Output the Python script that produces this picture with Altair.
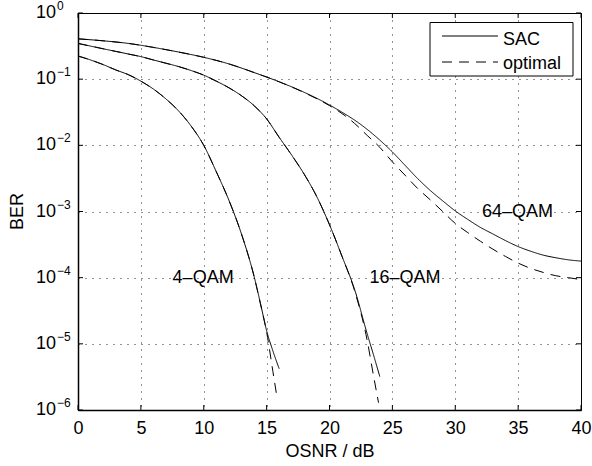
import altair as alt
import pandas as pd

FONT = "Liberation Sans"

# ---------------- data ----------------
x_ticks = [0, 5, 10, 15, 20, 25, 30, 35, 40]
y_ticks = [1, 1e-1, 1e-2, 1e-3, 1e-4, 1e-5, 1e-6]
y_exp_labels = ["0", "\u22121", "\u22122", "\u22123", "\u22124", "\u22125", "\u22126"]

# 4-QAM
qam4_sac_osnr = [0, 1, 2, 3, 4, 5, 6, 7, 8, 9, 10, 11, 12, 13, 14, 14.5, 15, 15.5, 16]
qam4_sac_ber = [0.224, 0.195, 0.166, 0.138, 0.117, 0.0933, 0.0708, 0.0501, 0.0331, 0.0195,
                0.0100, 3.98e-3, 1.48e-3, 4.57e-4, 1.05e-4, 4.17e-5, 1.58e-5, 7.8e-6, 4.2e-6]
qam4_opt_osnr = [0, 1, 2, 3, 4, 5, 6, 7, 8, 9, 10, 11, 12, 13, 14, 14.5, 15, 15.5, 15.85]
qam4_opt_ber = [0.224, 0.195, 0.166, 0.138, 0.117, 0.0933, 0.0708, 0.0501, 0.0331, 0.0195,
                0.0100, 3.98e-3, 1.48e-3, 4.57e-4, 1.05e-4, 4.07e-5, 1.51e-5, 3.8e-6, 1.45e-6]

# 16-QAM
qam16_sac_osnr = [0, 1, 2, 3, 4, 5, 6, 7, 8, 9, 10, 11, 12, 13, 14, 15, 16, 17, 18, 19, 20,
                  21, 22, 23, 23.5, 24]
qam16_sac_ber = [0.347, 0.316, 0.288, 0.263, 0.240, 0.219, 0.195, 0.174, 0.155, 0.135, 0.115,
                 0.0933, 0.0741, 0.0562, 0.0398, 0.0251, 0.0132, 7.08e-3, 3.63e-3, 1.66e-3,
                 6.31e-4, 2.09e-4, 6.6e-5, 1.41e-5, 6.8e-6, 3.2e-6]
qam16_opt_osnr = [0, 1, 2, 3, 4, 5, 6, 7, 8, 9, 10, 11, 12, 13, 14, 15, 16, 17, 18, 19, 20,
                  21, 22, 23, 23.5, 23.9]
qam16_opt_ber = [0.347, 0.316, 0.288, 0.263, 0.240, 0.219, 0.195, 0.174, 0.155, 0.135, 0.115,
                 0.0933, 0.0741, 0.0562, 0.0398, 0.0251, 0.0132, 7.08e-3, 3.63e-3, 1.66e-3,
                 6.31e-4, 2.09e-4, 6.3e-5, 1.12e-5, 3.3e-6, 1.29e-6]

# 64-QAM
qam64_osnr = [0, 2, 4, 6, 8, 10, 12, 14, 16, 18, 20, 21, 22, 23, 24, 25, 26, 27, 28, 29, 30,
              31, 32, 33, 34, 35, 36, 37, 38, 39, 40]
qam64_sac_ber = [0.407, 0.380, 0.347, 0.302, 0.257, 0.214, 0.170, 0.126, 0.0912, 0.0631,
                 0.0407, 0.0316, 0.0240, 0.0174, 0.0120, 7.94e-3, 5.01e-3, 3.16e-3, 2.09e-3,
                 1.45e-3, 1.02e-3, 7.59e-4, 5.75e-4, 4.57e-4, 3.63e-4, 2.95e-4, 2.51e-4,
                 2.19e-4, 2.00e-4, 1.86e-4, 1.78e-4]
qam64_opt_ber = [0.407, 0.380, 0.347, 0.302, 0.257, 0.214, 0.170, 0.126, 0.0912, 0.0625,
                 0.0398, 0.0302, 0.0214, 0.0141, 9.33e-3, 5.62e-3, 3.55e-3, 2.24e-3, 1.51e-3,
                 1.00e-3, 6.61e-4, 4.79e-4, 3.55e-4, 2.69e-4, 2.09e-4, 1.66e-4, 1.38e-4,
                 1.20e-4, 1.07e-4, 1.00e-4, 9.33e-5]

ann_text = ["4\u2013QAM", "16\u2013QAM", "64\u2013QAM"]
ann_osnr = [9.95, 26.0, 34.95]
ann_ber = [1e-4, 1e-4, 1e-3]

legend_labels = ["SAC", "optimal"]

# ---------------- build tables ----------------
curves = [
    ("4-QAM SAC", "SAC", qam4_sac_osnr, qam4_sac_ber),
    ("4-QAM opt", "optimal", qam4_opt_osnr, qam4_opt_ber),
    ("16-QAM SAC", "SAC", qam16_sac_osnr, qam16_sac_ber),
    ("16-QAM opt", "optimal", qam16_opt_osnr, qam16_opt_ber),
    ("64-QAM SAC", "SAC", qam64_osnr, qam64_sac_ber),
    ("64-QAM opt", "optimal", qam64_osnr, qam64_opt_ber),
]
rows = []
for name, kind, xs_, ys_ in curves:
    for i, (a, b) in enumerate(zip(xs_, ys_)):
        rows.append({"curve": name, "kind": kind, "osnr": a, "ber": b, "order": i})
df = pd.DataFrame(rows)

xscale = alt.Scale(domain=[0, 40], nice=False, zero=False)
yscale = alt.Scale(type="log", domain=[1e-6, 1], nice=False)

W, H = 503, 397

xaxis = alt.Axis(values=x_ticks, grid=True, ticks=False, labelFontSize=18, labelPadding=9,
                 labelFlush=False, labelColor="black", labelFont=FONT,
                 title="OSNR / dB", titleFontSize=18, titleFontWeight="normal",
                 titleFont=FONT, titleColor="black", titlePadding=5,
                 domainColor="black", domainWidth=1.5,
                 gridDash=[1, 6], gridColor="black", gridOpacity=0.85)
yaxis = alt.Axis(values=y_ticks, grid=True, ticks=False, labels=False, title=None,
                 domainColor="black", domainWidth=1.5,
                 gridDash=[1, 6], gridColor="black", gridOpacity=0.85)


def X(field="osnr:Q"):
    return alt.X(field, scale=xscale, axis=xaxis)


def Y(field="ber:Q"):
    return alt.Y(field, scale=yscale, axis=yaxis)


lines = alt.Chart(df).mark_line(color="black", strokeWidth=1, interpolate="monotone", clip=True).encode(
    x=X(), y=Y(),
    strokeDash=alt.StrokeDash("kind:N", scale=alt.Scale(domain=["SAC", "optimal"],
                                                         range=[[1, 0], [10, 7]]), legend=None),
    detail="curve:N",
    order="order:Q",
)

# inner ticks
xt = pd.DataFrame({"osnr": x_ticks})
yt = pd.DataFrame({"ber": y_ticks})
tick_b = alt.Chart(xt).mark_rule(color="black", strokeWidth=1).encode(
    x=X(), y=alt.value(H), y2=alt.value(H - 5))
tick_t = alt.Chart(xt).mark_rule(color="black", strokeWidth=1).encode(
    x=X(), y=alt.value(0), y2=alt.value(5))
tick_l = alt.Chart(yt).mark_rule(color="black", strokeWidth=1).encode(
    y=Y(), x=alt.value(0), x2=alt.value(5))
tick_r = alt.Chart(yt).mark_rule(color="black", strokeWidth=1).encode(
    y=Y(), x=alt.value(W - 5), x2=alt.value(W))

# y tick labels 10^n
ylab = pd.DataFrame({"ber": y_ticks, "exp": y_exp_labels})
lab10 = alt.Chart(ylab).mark_text(align="right", baseline="middle", fontSize=18, font=FONT,
                                  color="black").encode(
    y=Y(), x=alt.value(-22), text=alt.value("10"))
labexp = alt.Chart(ylab).mark_text(align="left", baseline="middle", fontSize=12, font=FONT,
                                   color="black", dy=-7).encode(
    y=Y(), x=alt.value(-21), text="exp:N")

ytitle = alt.Chart(pd.DataFrame({"t": ["BER"]})).mark_text(
    angle=270, align="center", baseline="middle", fontSize=18, font=FONT, color="black").encode(
    x=alt.value(-60), y=alt.value(H / 2), text="t:N")

# annotations
ann = pd.DataFrame({"osnr": ann_osnr, "ber": ann_ber, "text": ann_text})
anns = alt.Chart(ann).mark_text(align="center", baseline="middle", fontSize=18, font=FONT,
                                color="black").encode(
    x=X(), y=Y(), text="text:N")

# legend
one = pd.DataFrame({"a": [0]})
leg_box = alt.Chart(one).mark_rect(fill="white", stroke="black", strokeWidth=1).encode(
    x=alt.value(352), x2=alt.value(495), y=alt.value(9.5), y2=alt.value(63))
leg_l1 = alt.Chart(one).mark_rule(color="black", strokeWidth=1).encode(
    x=alt.value(364), x2=alt.value(420), y=alt.value(23))
leg_l2 = alt.Chart(one).mark_rule(color="black", strokeWidth=1, strokeDash=[10, 7]).encode(
    x=alt.value(364), x2=alt.value(420), y=alt.value(49))
leg_t1 = alt.Chart(pd.DataFrame({"t": [legend_labels[0]]})).mark_text(
    align="left", baseline="alphabetic", fontSize=18, font=FONT, color="black").encode(
    x=alt.value(425), y=alt.value(32), text="t:N")
leg_t2 = alt.Chart(pd.DataFrame({"t": [legend_labels[1]]})).mark_text(
    align="left", baseline="alphabetic", fontSize=18, font=FONT, color="black").encode(
    x=alt.value(425), y=alt.value(56), text="t:N")

chart = alt.layer(
    lines, tick_b, tick_t, tick_l, tick_r, lab10, labexp, ytitle, anns,
    leg_box, leg_l1, leg_l2, leg_t1, leg_t2
).properties(
    width=W, height=H,
    padding={"left": 78, "top": 13, "right": 11, "bottom": 56},
    autosize=alt.AutoSizeParams(type="none"),
    background="white",
).configure_view(stroke="black", strokeWidth=1)

chart.save("out.html", embed_options={"renderer": "svg", "actions": False})
